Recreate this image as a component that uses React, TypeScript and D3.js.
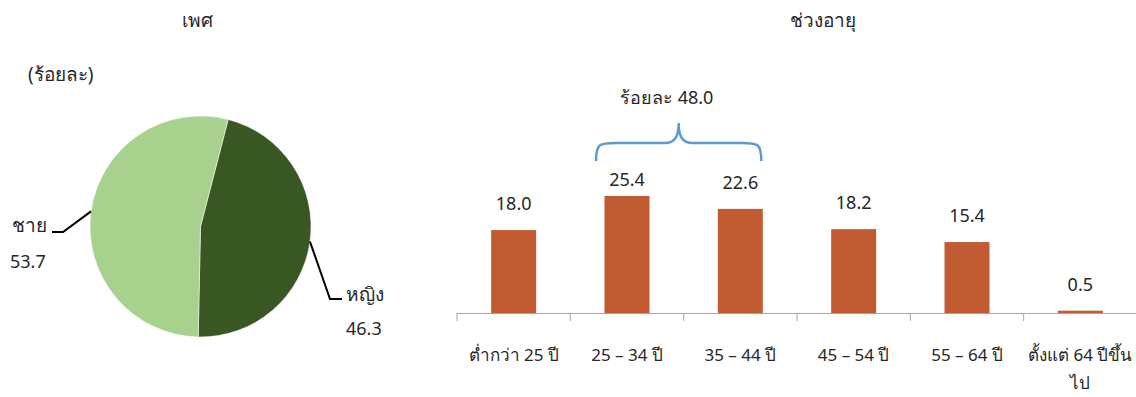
import React from "react";
import * as d3 from "d3";

const genderLabels = ["หญิง", "ชาย"];
const genderValues = [46.3, 53.7];
const genderColors = ["#385723", "#A9D18E"];

const ageCategories = ["ต่ำกว่า 25 ปี", "25 – 34 ปี", "35 – 44 ปี", "45 – 54 ปี", "55 – 64 ปี", "ตั้งแต่ 64 ปีขึ้นไป"];
const ageValues = [18.0, 25.4, 22.6, 18.2, 15.4, 0.5];
const ageLabelLines = [["ต่ำกว่า 25 ปี"], ["25 – 34 ปี"], ["35 – 44 ปี"], ["45 – 54 ปี"], ["55 – 64 ปี"], ["ตั้งแต่ 64 ปีขึ้น", "ไป"]];
const braceLabel = "ร้อยละ 48.0";

const FONT = "'Noto Sans', sans-serif";
const TXT = "#262626";

export default function App() {
  const W = 1136, H = 397;
  // pie
  const cx = 200.5, cy = 226.5, r = 110.5;
  const start = (14.5 * Math.PI) / 180;
  const pie = d3.pie<number>().sort(null).startAngle(start).endAngle(start + 2 * Math.PI);
  const arcs = pie(genderValues);
  const arcGen = d3.arc<d3.PieArcDatum<number>>().innerRadius(0).outerRadius(r);
  const edge = (a: d3.PieArcDatum<number>) => {
    const m = (a.startAngle + a.endAngle) / 2;
    return [cx + r * Math.sin(m), cy - r * Math.cos(m)];
  };
  const fEdge = edge(arcs[0]);
  const mEdge = edge(arcs[1]);

  // bars
  const x = d3.scaleBand<string>().domain(ageCategories).range([457, 1137]).paddingInner(0.6).paddingOuter(0.3);
  const step = x.step();
  const x0 = 457;
  const y = d3.scaleLinear().domain([0, 25.4]).range([313, 196]);
  const bw = 45;

  const c1 = x0 + step * 1.5, c2 = x0 + step * 2.5;
  const bL = c1 - 31, bR = c2 + 21, bMid = (bL + bR) / 2;
  const bBot = 161, bTop = 143, peak = 123;
  const bracePath = `M${bL},${bBot} C${bL},${bTop} ${bL + 4},${bTop} ${bL + 20},${bTop} L${bMid - 14},${bTop} C${bMid - 4},${bTop} ${bMid},${bTop - 6} ${bMid},${peak} C${bMid},${bTop - 6} ${bMid + 4},${bTop} ${bMid + 14},${bTop} L${bR - 20},${bTop} C${bR - 4},${bTop} ${bR},${bTop} ${bR},${bBot}`;

  return (
    <svg width={W} height={H} style={{ position: "absolute", left: 0, top: 0, background: "#fff" }} fontFamily={FONT}>
      <rect width={W} height={H} fill="#fff" />
      {/* Pie titles */}
      <text x={197} y={27} textAnchor="middle" fontSize={19} fill={TXT}>เพศ</text>
      <text x={28} y={81} fontSize={19} fill={TXT}>(ร้อยละ)</text>
      {arcs.map((a, i) => (
        <path key={i} d={arcGen(a) as string} transform={`translate(${cx},${cy})`} fill={genderColors[i]} stroke="#fff" strokeWidth={0.5} />
      ))}
      {/* leader lines */}
      <polyline points={`${mEdge[0]},${mEdge[1]} 63,232 52,232`} fill="none" stroke="#000" strokeWidth={2} />
      <polyline points={`${fEdge[0]},${fEdge[1]} 330,299 342,299`} fill="none" stroke="#000" strokeWidth={2} />
      <text x={12} y={232} fontSize={19} fill={TXT}>{genderLabels[1]}</text>
      <text x={10} y={268} fontSize={18} fill={TXT}>{genderValues[1].toFixed(1)}</text>
      <text x={346} y={301} fontSize={19} fill={TXT}>{genderLabels[0]}</text>
      <text x={346} y={335} fontSize={18} fill={TXT}>{genderValues[0].toFixed(1)}</text>

      {/* Bar chart */}
      <text x={823} y={27} textAnchor="middle" fontSize={19} fill={TXT}>ช่วงอายุ</text>
      {ageCategories.map((c, i) => {
        const cxb = x0 + step * (i + 0.5);
        return (
          <g key={c}>
            <rect x={cxb - bw / 2} y={y(ageValues[i])} width={bw} height={y(0) - y(ageValues[i])} fill="#C05B32" />
            <text x={cxb} y={y(ageValues[i]) - (i === 1 ? 10 : 20)} textAnchor="middle" fontSize={18} fill={TXT}>
              {ageValues[i].toFixed(1)}
            </text>
            {ageLabelLines[i].map((l, j) => (
              <text key={j} x={cxb} y={361 + j * 28} textAnchor="middle" fontSize={17} fill={TXT}>{l}</text>
            ))}
          </g>
        );
      })}
      <line x1={457} x2={1137} y1={313.5} y2={313.5} stroke="#A6A6A6" />
      {d3.range(ageCategories.length + 1).map((i) => (
        <line key={i} x1={x0 + step * i} x2={x0 + step * i} y1={313} y2={321} stroke="#A6A6A6" />
      ))}
      <path d={bracePath} fill="none" stroke="#5B9BD5" strokeWidth={2.5} />
      <text x={bMid - 12} y={104} textAnchor="middle" fontSize={18} fill={TXT}>{braceLabel}</text>
    </svg>
  );
}
